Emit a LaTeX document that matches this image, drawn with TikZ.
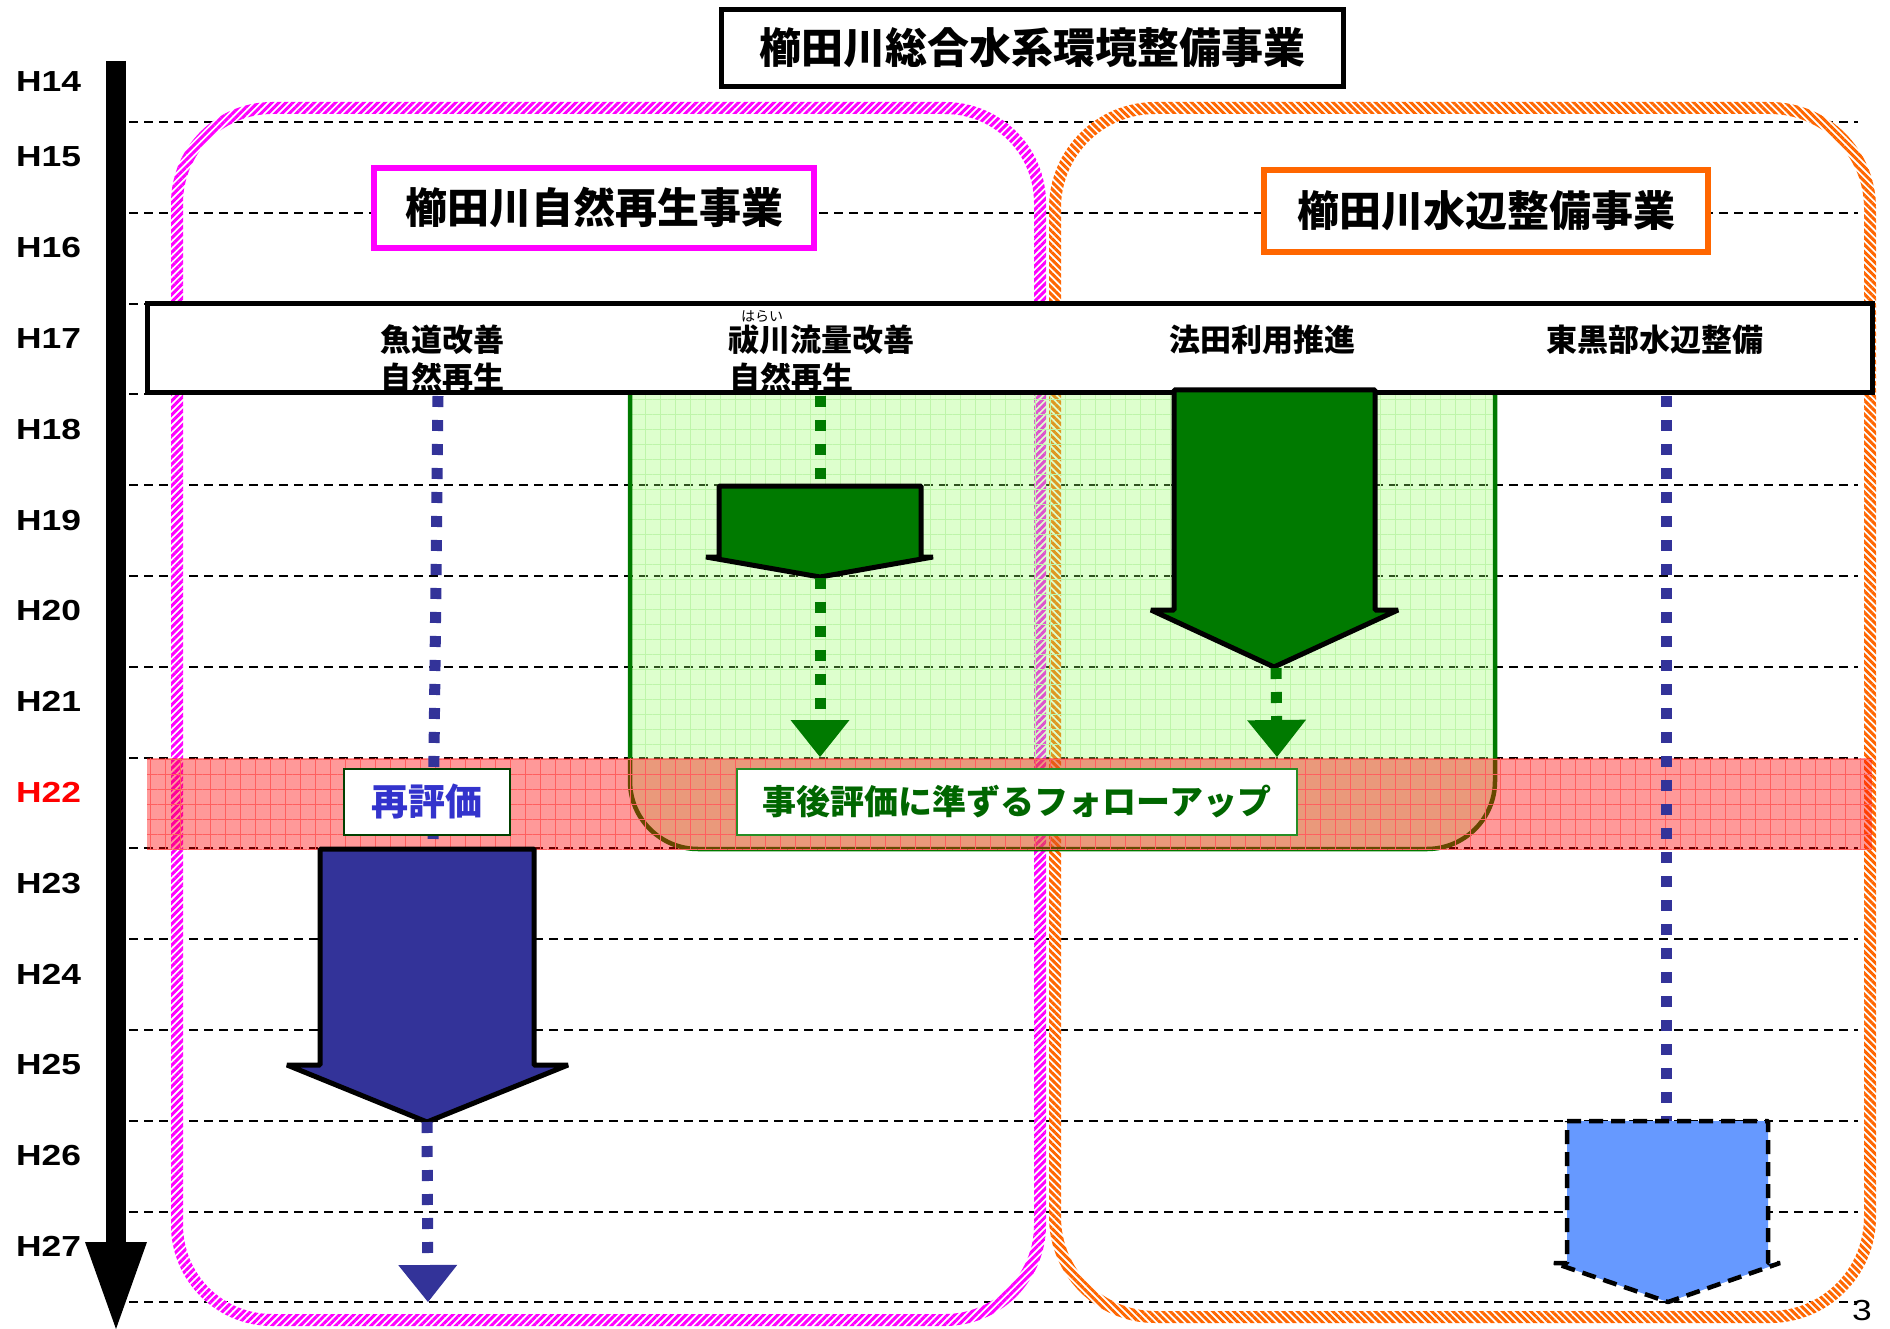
\documentclass[tikz,border=0pt]{standalone}
\usepackage{fontspec}
\setmainfont{Noto Sans CJK JP}
\newfontfamily\hfont{Liberation Sans}[FakeStretch=1.22]
\usetikzlibrary{patterns.meta,arrows.meta}
\definecolor{mag}{HTML}{FF00FF}
\definecolor{org}{HTML}{FF6600}
\definecolor{navy}{HTML}{333399}
\definecolor{dgreen}{HTML}{007A00}
\definecolor{gfill}{RGB}{150,255,100}
\definecolor{ggrid}{RGB}{190,245,170}
\definecolor{rgrid}{RGB}{255,95,95}
\definecolor{lblue}{HTML}{6699FF}
\definecolor{txtblue}{HTML}{3333CC}
\definecolor{txtgreen}{HTML}{006600}
\newcommand\fs[1]{\fontsize{#1}{#1}\selectfont}
\begin{document}
\begin{tikzpicture}[x=1pt,y=-1pt,
  gridline/.style={line width=2pt, dash pattern=on 9pt off 6pt},
  dotline/.style={line width=11pt, dash pattern=on 11pt off 13pt},
  tipA/.style={-{Triangle[width=59pt,length=37pt,line width=0pt]}},
  blkarrow/.style={line width=5pt, draw=black, line join=bevel},
  jlabel/.style={inner sep=0pt, font=\bfseries\fs{31}},
  ylabel/.style={anchor=west, inner sep=0pt, font=\hfont\bfseries\fs{29}},
  subbox/.style={line width=6pt, fill=white, inner sep=0pt, font=\bfseries\fs{42}},
]
\useasboundingbox (0,0) rectangle (1890,1329);
\fill[white] (0,0) rectangle (1890,1329);

% dashed year lines
\foreach \k in {0,...,13} {\draw[gridline] (129,{122+90.8*\k}) -- (1858,{122+90.8*\k});}

% hatched group frames
\path[even odd rule, fill=white,
  postaction={pattern={Lines[angle=45,distance=5pt,line width=3pt]}, pattern color=mag}]
  [rounded corners=101pt] (171,102) rectangle (1046,1326)
  [rounded corners=89pt] (183,114) rectangle (1034,1314);
\path[even odd rule, fill=white,
  postaction={pattern={Lines[angle=-45,distance=5pt,line width=3pt]}, pattern color=org}]
  [rounded corners=106pt] (1049,102) rectangle (1876,1323)
  [rounded corners=94pt] (1061,114) rectangle (1864,1311);

% subtitle boxes
\node[subbox, draw=mag, minimum width=440pt, minimum height=80pt] (sub1) at (594,208) {櫛田川自然再生事業};
\node[subbox, draw=org, minimum width=444pt, minimum height=82pt] (sub2) at (1486,211) {櫛田川水辺整備事業};

% green follow-up area
\fill[gfill, fill opacity=0.32, rounded corners=68pt] (630,328) rectangle (1495,849);
\fill[pattern={Hatch[distance=15pt,line width=0.7pt]}, pattern color=ggrid, rounded corners=68pt] (630,328) rectangle (1495,849);
\draw[dgreen, line width=4.5pt, rounded corners=68pt] (630,328) rectangle (1495,849);

% red H22 band
\fill[red, fill opacity=0.4] (147,758) rectangle (1872,849);
\fill[pattern={Hatch[distance=15pt,line width=0.7pt]}, pattern color=rgrid] (147,758) rectangle (1872,849);

% header box
\node[draw, line width=5pt, fill=white, minimum width=1725pt, minimum height=89pt, inner sep=0pt] (hdr) at (1009.5,348.5) {};
\node[jlabel] (t1a) at (442,340) {魚道改善};
\node[jlabel] (t1b) at (442,378) {自然再生};
\node[jlabel, anchor=west] (t2a) at (728,340) {祓川流量改善};
\node[jlabel, anchor=west] (t2b) at (729,378) {自然再生};
\node[inner sep=0pt, font=\fs{14}] (ruby) at (762,316) {はらい};
\node[jlabel] (t3) at (1262,340) {法田利用推進};
\node[jlabel] (t4) at (1655,340) {東黒部水辺整備};

% left blue line and arrow
\coordinate (b1s) at (438,396);
\coordinate (b1e) at (433,846);
\draw[dotline, navy] (b1s) -- (b1e);
\draw[blkarrow, fill=navy] (320,849) -- (534,849) -- (534,1065) -- (568,1065) -- (427,1122) -- (287,1065) -- (320,1065) -- cycle;
\coordinate (btip) at (427,1122);
\coordinate (bend) at (428,1302);
\draw[dotline, navy, tipA] (btip) -- (bend);

% green small arrow
\coordinate (g1s) at (820,396);
\coordinate (g1e) at (820,479);
\draw[dotline, dgreen] (g1s) -- (g1e);
\draw[blkarrow, fill=dgreen] (719,486) -- (921,486) -- (921,557) -- (933,557) -- (820,577) -- (706,557) -- (719,557) -- cycle;
\coordinate (g1t) at (820,578);
\coordinate (g1a) at (820,757);
\draw[dotline, dgreen, tipA] (g1t) -- (g1a);

% big green arrow
\draw[blkarrow, fill=dgreen] (1174,390) -- (1375,390) -- (1375,610) -- (1398,610) -- (1274,667) -- (1151,610) -- (1174,610) -- cycle;
\coordinate (g2t) at (1276,668);
\coordinate (g2a) at (1277,757);
\draw[dotline, dgreen, tipA] (g2t) -- (g2a);

% right blue line and dashed pentagon
\coordinate (b2s) at (1666,396);
\coordinate (b2e) at (1666,1121);
\draw[dotline, navy] (b2s) -- (b2e);
\draw[fill=lblue, line width=4.5pt, dash pattern=on 14pt off 8pt, line join=bevel]
  (1567,1121) -- (1768,1121) -- (1768,1263) -- (1780,1263) -- (1668,1302) -- (1554,1263) -- (1567,1263) -- cycle;

% label boxes
\node[draw=black!75!green, line width=2pt, fill=white, minimum width=166pt, minimum height=66pt, inner sep=0pt, text=txtblue, font=\bfseries\fs{37}] (rev) at (427,802) {再評価};
\node[draw=dgreen!85, line width=2.5pt, fill=white, minimum width=560pt, minimum height=66pt, inner sep=0pt, text=txtgreen, font=\bfseries\fs{34}] (fol) at (1017,802) {事後評価に準ずるフォローアップ};

% title
\node[draw, line width=5pt, fill=white, minimum width=622pt, minimum height=77pt, inner sep=0pt, font=\bfseries\fs{42}] (title) at (1032,48) {櫛田川総合水系環境整備事業};

% timeline
\coordinate (tl0) at (116,61);
\coordinate (tl1) at (116,1329);
\draw[line width=20pt, -{Triangle[width=62pt,length=87pt,line width=0pt]}] (tl0) -- (tl1);

\node[ylabel] (h14) at (16,82) {H14};
\foreach \k in {15,...,21,23,24,25,26,27} {\node[ylabel] (h\k) at (16,{157+90.8*(\k-15)}) {H\k};}
\node[ylabel, text=red] (h22) at (16,{157+90.8*7}) {H22};

\node[inner sep=0pt, font=\hfont\fs{29}] (pg) at (1862,1311) {3};
\end{tikzpicture}
\end{document}
